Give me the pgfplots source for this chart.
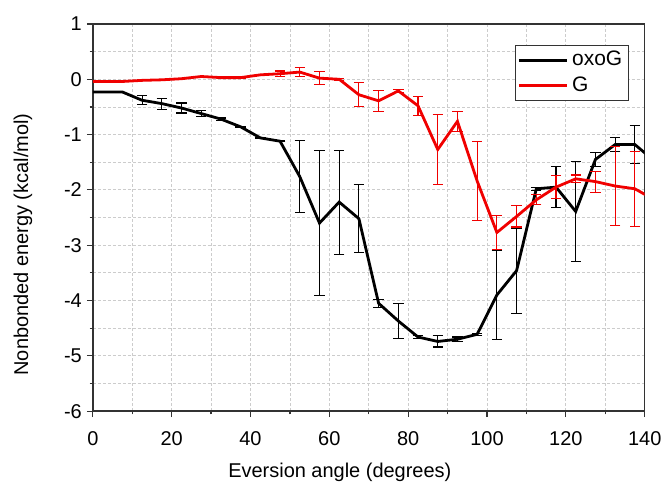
\documentclass[border=0pt]{standalone}
\usepackage{fontspec}
\setmainfont{Liberation Sans}
\usepackage{pgfplots}
\usepackage{pgfplotstable}
\pgfplotsset{compat=1.18}
\definecolor{gridgray}{gray}{0.80}
\definecolor{ored}{HTML}{F00000}

% oxoG: angle, energy
\pgfplotstableread{
x y
-2.5 -0.23
2.5 -0.23
7.5 -0.23
12.5 -0.38
17.5 -0.44
22.5 -0.52
27.5 -0.62
32.5 -0.72
37.5 -0.86
42.5 -1.06
47.5 -1.12
52.5 -1.76
57.5 -2.60
62.5 -2.22
67.5 -2.52
72.5 -4.05
77.5 -4.37
82.5 -4.66
87.5 -4.74
92.5 -4.70
97.5 -4.61
102.5 -3.90
107.5 -3.46
112.5 -1.98
117.5 -1.95
122.5 -2.39
127.5 -1.45
132.5 -1.18
137.5 -1.18
142.5 -1.48
}\oxoline

\pgfplotstableread{
x y e
12.5 -0.38 0.08
17.5 -0.44 0.10
22.5 -0.52 0.09
27.5 -0.62 0.05
32.5 -0.72 0.02
37.5 -0.86 0.01
42.5 -1.06 0.01
47.5 -1.12 0.01
52.5 -1.76 0.65
57.5 -2.60 1.31
62.5 -2.22 0.94
67.5 -2.52 0.61
72.5 -4.05 0.07
77.5 -4.37 0.32
82.5 -4.66 0.02
87.5 -4.74 0.10
92.5 -4.70 0.04
97.5 -4.61 0.02
102.5 -3.90 0.80
107.5 -3.46 0.77
112.5 -1.98 0.03
117.5 -1.95 0.37
122.5 -2.39 0.90
127.5 -1.45 0.12
132.5 -1.18 0.12
137.5 -1.18 0.35
}\oxoerr

% G: angle, energy
\pgfplotstableread{
x y
-2.5 -0.04
2.5 -0.04
7.5 -0.04
12.5 -0.02
17.5 -0.01
22.5 0.01
27.5 0.05
32.5 0.03
37.5 0.03
42.5 0.08
47.5 0.10
52.5 0.13
57.5 0.02
62.5 0.00
67.5 -0.28
72.5 -0.39
77.5 -0.21
82.5 -0.48
87.5 -1.27
92.5 -0.76
97.5 -1.84
102.5 -2.77
107.5 -2.48
112.5 -2.18
117.5 -1.95
122.5 -1.80
127.5 -1.85
132.5 -1.93
137.5 -1.98
142.5 -2.18
}\gline

\pgfplotstableread{
x y e
37.5 0.03 0.02
47.5 0.10 0.05
52.5 0.13 0.08
57.5 0.02 0.12
62.5 0.00 0.02
67.5 -0.28 0.22
72.5 -0.39 0.19
77.5 -0.21 0.03
82.5 -0.48 0.17
87.5 -1.27 0.63
92.5 -0.76 0.18
97.5 -1.84 0.71
102.5 -2.77 0.31
107.5 -2.48 0.19
112.5 -2.18 0.09
117.5 -1.95 0.21
122.5 -1.80 0.07
127.5 -1.85 0.19
132.5 -1.93 0.72
137.5 -1.98 0.68
}\gerr

\begin{document}
\begin{tikzpicture}
\begin{axis}[
  scale only axis, width=276.5pt, height=194pt,
  xmin=0, xmax=140, ymin=-6, ymax=1,
  xtick={0,20,...,140}, ytick={-6,-5,...,1},
  minor x tick num=1, minor y tick num=1,
  tick align=outside, tick pos=left,
  major tick length=3pt, minor tick length=1.6pt,
  grid=both,
  major grid style={gridgray, dash pattern=on 1.5pt off 1pt, line width=0.4pt},
  minor grid style={gridgray, dash pattern=on 1.5pt off 1pt, line width=0.4pt},
  axis line style={line width=0.7pt, black!80},
  every tick/.style={black!80, line width=0.6pt},
  tick label style={font=\fontsize{10}{12}\selectfont},
  xticklabel style={yshift=-3.5pt},
  yticklabel style={xshift=1pt},
  label style={font=\fontsize{10}{12}\selectfont},
  xlabel style={xshift=-14.5pt, yshift=-2pt},
  ylabel style={yshift=9pt, xshift=-13.5pt},
  /pgf/number format/assume math mode=true,
  xlabel={Eversion angle (degrees)},
  ylabel={Nonbonded energy (kcal/mol)},
  legend style={at={(0.971,0.946)}, anchor=north east, draw=black!80,
    line width=0.5pt, font=\fontsize{10.5}{12}\selectfont,
    inner sep=1pt, row sep=0pt},
  legend cell align=left,
  legend image code/.code={\draw[#1] (0pt,0pt) -- (24pt,0pt);},
]
\addplot[black, line width=1.4pt] table[x=x, y=y] {\oxoline};
\addlegendentry{oxoG}
\addplot[ored, line width=1.4pt] table[x=x, y=y] {\gline};
\addlegendentry{G}

\addplot[draw=none, no markers, forget plot,
  error bars/.cd, y dir=both, y explicit,
  error bar style={draw=black, line width=0.55pt},
  error mark options={rotate=90, mark size=2.6pt, line width=0.55pt, draw=black}]
  table[x=x, y=y, y error=e] {\oxoerr};
\addplot[draw=none, no markers, forget plot,
  error bars/.cd, y dir=both, y explicit,
  error bar style={draw=ored, line width=0.55pt},
  error mark options={rotate=90, mark size=2.6pt, line width=0.55pt, draw=ored}]
  table[x=x, y=y, y error=e] {\gerr};
\end{axis}
\path ([xshift=-46.5pt,yshift=-36.5pt]current axis.south west)
  rectangle ([xshift=11pt,yshift=12pt]current axis.north east);
\end{tikzpicture}
\end{document}
